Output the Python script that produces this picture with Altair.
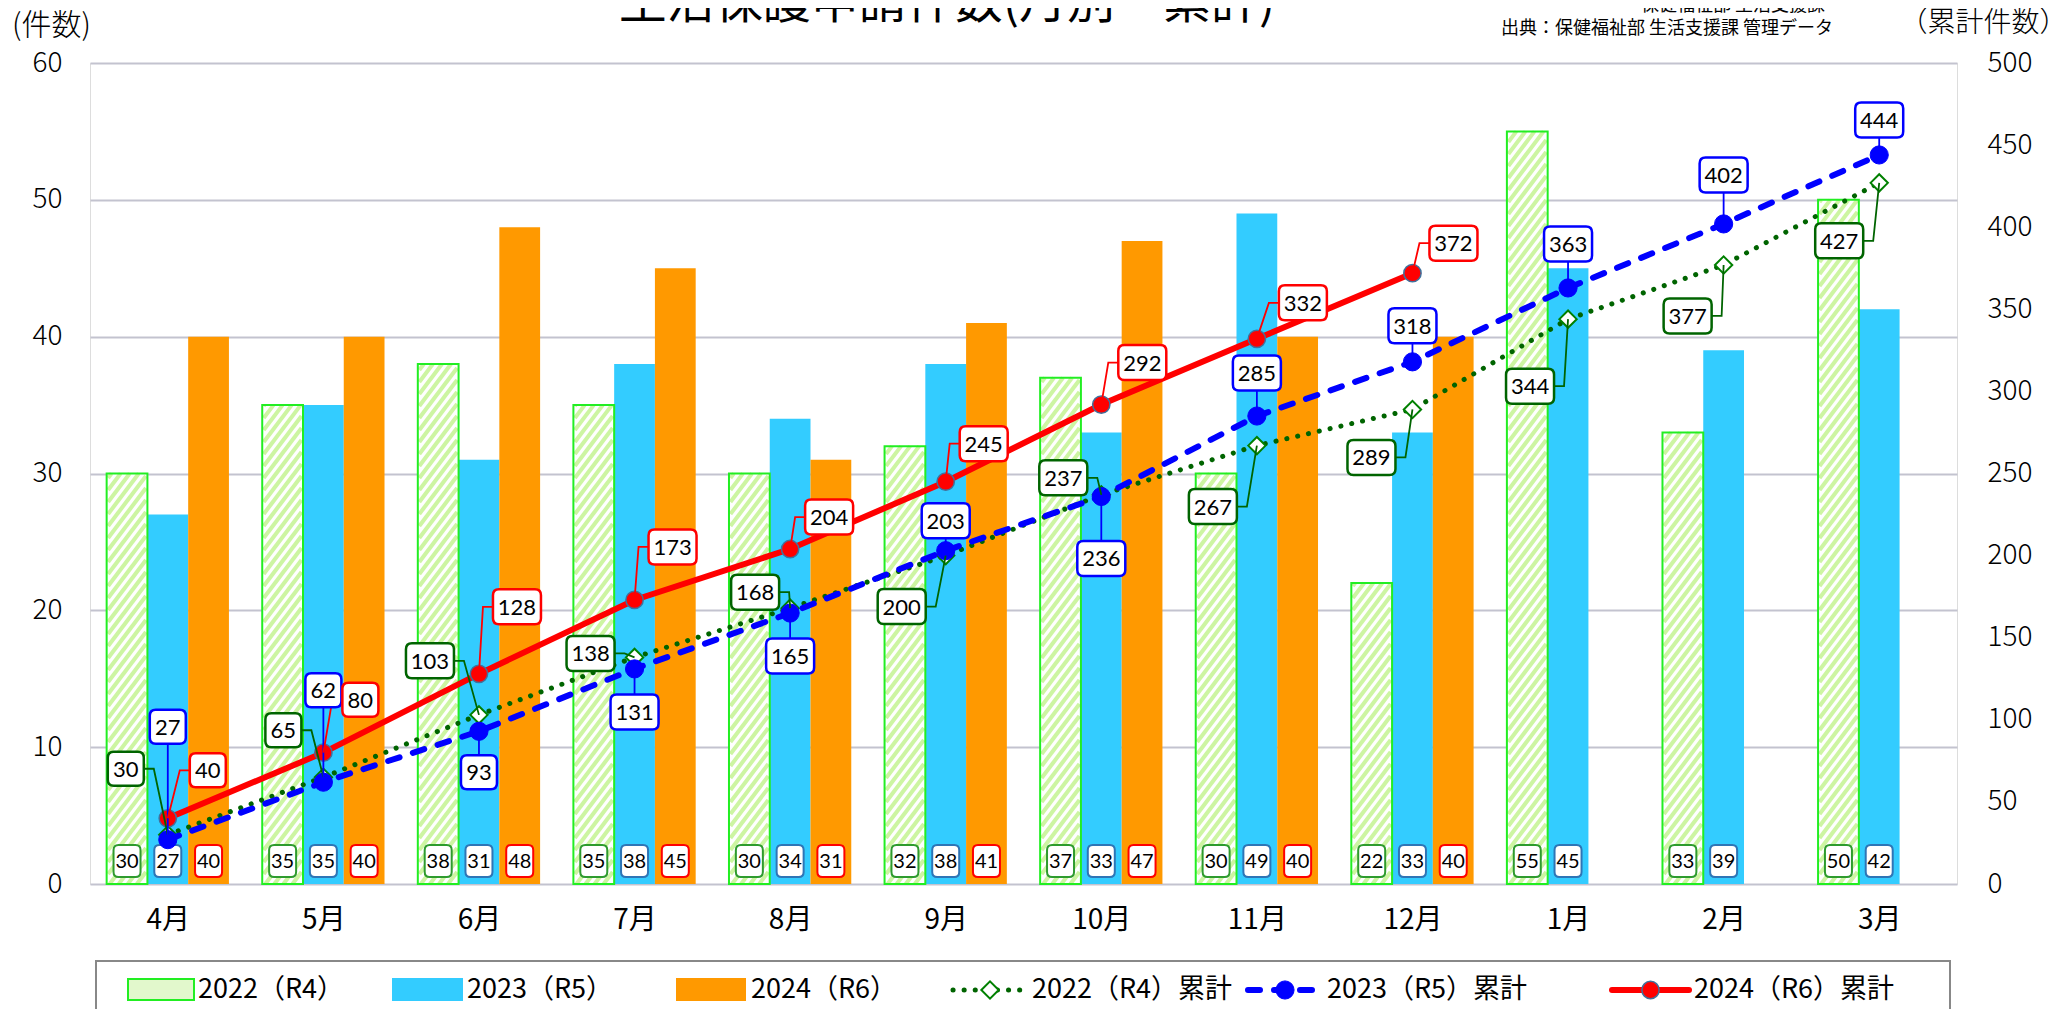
import altair as alt
import pandas as pd

# ---------------- data ----------------
months = ["4月", "5月", "6月", "7月", "8月", "9月", "10月", "11月", "12月", "1月", "2月", "3月"]
r4 = [30, 35, 38, 35, 30, 32, 37, 30, 22, 55, 33, 50]
r5 = [27, 35, 31, 38, 34, 38, 33, 49, 33, 45, 39, 42]
r6 = [40, 40, 48, 45, 31, 41, 47, 40, 40]
r4_cum = [30, 65, 103, 138, 168, 200, 237, 267, 289, 344, 377, 427]
r5_cum = [27, 62, 93, 131, 165, 203, 236, 285, 318, 363, 402, 444]
r6_cum = [40, 80, 128, 173, 204, 245, 292, 332, 372]
series_bar = ["2022（R4）", "2023（R5）", "2024（R6）"]
series_cum = ["2022（R4）累計", "2023（R5）累計", "2024（R6）累計"]
title_text = "生活保護申請件数(月別・累計)"
source_lines = ["保健福祉部 生活支援課", "出典：保健福祉部 生活支援課 管理データ"]
left_title = "(件数)"
right_title = "（累計件数）"

# ---------------- layout / style ----------------
W, H = 1867, 821
X0, Y0 = 90, 63
PXX = W / 12
PXL = H / 60
PXR = H / 500
BW = 0.262
P_STRIPE, RISE = 12.0, 50.0
FONT_CJK = "Noto Sans CJK JP"
FONT_AX = "'Liberation Sans Narrow', 'Noto Sans CJK JP'"
FONT_NUM = "Lato"

bar_fill = ["#FFFFFF", "#33CCFF", "#FF9900"]
bar_label_stroke = ["#2E9B2E", "#2E75B6", "#FF0000"]
cum_color = ["#006400", "#0000FF", "#FF0000"]

# callout offsets in px (dx, dy) and leader type
off_r4 = [(-42, -66), (-40, -47), (-49, -54), (-44, -4), (-35, -16), (-44, 51),
          (-38, -17), (-44, 61), (-41, 48), (-38, 67), (-36, 51), (-40, 58)]
off_r5 = [(0, -113), (0, -92), (0, 41), (0, 43), (0, 43), (0, -30),
          (0, 62), (0, -43), (0, -36), (0, -44), (0, -49), (0, -35)]
off_r6 = [(40, -48), (37, -53), (38, -67), (38, -53), (39, -32), (38, -38),
          (41, -42), (46, -36), (41, -30)]
lead_type = ["L", "V", "R"]
STUB = 10


def rrect(w, h, r):
    a, b = w / 2, h / 2
    return (f"M{-a + r},{-b}H{a - r}Q{a},{-b} {a},{-b + r}V{b - r}Q{a},{b} {a - r},{b}"
            f"H{-a + r}Q{-a},{b} {-a},{b - r}V{-b + r}Q{-a},{-b} {-a + r},{-b}Z")


def xu(px):
    return (px - X0) / PXX - 0.5


def yl(py):
    return (Y0 + H - py) / PXL


xs = alt.Scale(domain=[-0.5, 11.5], nice=False, zero=False)
yls = alt.Scale(domain=[0, 60], nice=False, zero=False)
yrs = alt.Scale(domain=[0, 500], nice=False, zero=False)


def X(f):
    return alt.X(f, scale=xs)


def YL(f):
    return alt.Y(f, scale=yls)


def YR(f):
    return alt.Y(f, scale=yrs)


# ---------------- bars ----------------
rows = []
for k, vals in enumerate([r4, r5, r6]):
    for i, v in enumerate(vals):
        rows.append(dict(s=series_bar[k], k=k, idx=i, v=v,
                         xl=i + (k - 1.5) * BW, xr=i + (k - 0.5) * BW, xc=i + (k - 1) * BW,
                         fc=bar_fill[k], sc=bar_label_stroke[k]))
df_bars = pd.DataFrame(rows)
df_b22 = df_bars[df_bars.k == 0]
df_bsol = df_bars[df_bars.k > 0]

x_axis = alt.Axis(values=list(range(12)), labelExpr=f"{months}[datum.value]", title="",
                  grid=False, ticks=False, domain=False, labelFontSize=28, labelFont=FONT_AX,
                  labelColor="#000000", labelPadding=22, labelOverlap=False)
yl_axis = alt.Axis(values=list(range(0, 61, 10)), title=left_title, titleAngle=0, titleX=-39,
                   titleY=-38, titleAlign="center", titleBaseline="middle", titleFontSize=30,
                   titleFont=FONT_CJK, titleFontWeight=300, titleColor="#000000",
                   labelFontSize=28, labelFont=FONT_AX, labelFontWeight=300, labelColor="#000000",
                   labelPadding=28, ticks=False, domain=False, grid=True, gridColor="#C3C3CF",
                   gridWidth=2)
yr_axis = alt.Axis(values=list(range(0, 501, 50)), orient="right", title=right_title, titleAngle=0,
                   titleX=26, titleY=-40, titleAlign="center", titleBaseline="middle",
                   titleFontSize=28, titleFont=FONT_CJK, titleFontWeight=300,
                   titleColor="#000000", labelFontSize=28, labelFont=FONT_AX, labelFontWeight=300,
                   labelColor="#000000", labelPadding=30, ticks=False, domain=False, grid=False)

bars_solid = alt.Chart(df_bsol).mark_rect().encode(
    x=alt.X("xl:Q", scale=xs, axis=x_axis), x2="xr:Q",
    y=alt.Y("v:Q", scale=yls, axis=yl_axis), y2=alt.datum(0),
    fill=alt.Fill("fc:N", scale=None),
)
bars22_bg = alt.Chart(df_b22).mark_rect(fill="#FFFFFF").encode(
    x=X("xl:Q"), x2="xr:Q", y=YL("v:Q"), y2=alt.datum(0),
)
inset = 1.5 / PXX
stripes = (
    alt.Chart(df_b22)
    .transform_calculate(n=f"sequence(0, ceil((datum.v*{PXL} + {RISE})/{P_STRIPE}) + 1)")
    .transform_flatten(["n"])
    .transform_calculate(y0=f"datum.n*{P_STRIPE} - {RISE}")
    .transform_calculate(top=f"datum.v*{PXL}")
    .transform_calculate(ta=f"max(0, -datum.y0/{RISE})")
    .transform_calculate(tb=f"min(1, (datum.top - datum.y0)/{RISE})")
    .transform_filter("datum.tb > datum.ta")
    .transform_calculate(sx=f"datum.xl + {inset} + datum.ta*{BW - 2 * inset}")
    .transform_calculate(ex=f"datum.xl + {inset} + datum.tb*{BW - 2 * inset}")
    .transform_calculate(sy=f"(datum.y0 + datum.ta*{RISE})/{PXL}")
    .transform_calculate(ey=f"(datum.y0 + datum.tb*{RISE})/{PXL}")
    .mark_rule(color="#CDF5A2", strokeWidth=4)
    .encode(x=X("sx:Q"), x2="ex:Q", y=YL("sy:Q"), y2="ey:Q")
)
bars22_border = alt.Chart(df_b22).mark_rect(filled=False, stroke="#22EE22", strokeWidth=2).encode(
    x=X("xl:Q"), x2="xr:Q", y=YL("v:Q"), y2=alt.datum(0),
)

BAR_LABEL_Y = 23 / PXL
bar_label_box = alt.Chart(df_bars).mark_point(
    shape=rrect(27, 32, 5), size=4, filled=True, fill="#FFFFFF", strokeWidth=2, opacity=1
).encode(
    x=X("xc:Q"), y=alt.datum(BAR_LABEL_Y),
    stroke=alt.Stroke("sc:N", scale=None),
)
bar_label_text = alt.Chart(df_bars).mark_text(
    font=FONT_NUM, fontSize=20, color="#000000", baseline="middle", align="center", dy=1
).encode(x=X("xc:Q"), y=alt.datum(BAR_LABEL_Y), text="v:Q")

# ---------------- annotations (title, source) ----------------
df_ann = pd.DataFrame([dict(t=title_text)])
title_mark = alt.Chart(df_ann).mark_text(
    font=FONT_CJK, fontSize=48, color="#000000", align="center", baseline="middle"
).encode(x=alt.value(857), y=alt.value(-59), text="t:N")
df_src = pd.DataFrame([dict(t=source_lines[0]), dict(t=source_lines[1])])
src1 = alt.Chart(df_src.iloc[[0]]).mark_text(
    font=FONT_CJK, fontSize=18, color="#000000", align="right", baseline="middle"
).encode(x=alt.value(1735), y=alt.value(-57), text="t:N")
src2 = alt.Chart(df_src.iloc[[1]]).mark_text(
    font=FONT_CJK, fontSize=18, color="#000000", align="right", baseline="middle"
).encode(x=alt.value(1743), y=alt.value(-34), text="t:N")

# ---------------- legend (drawn below the plot) ----------------
LY = 990
df_lbox = pd.DataFrame([dict(x1=xu(96), x2=xu(1950), y1=yl(961), y2=yl(1040))])
leg_box = alt.Chart(df_lbox).mark_rect(fill="#FFFFFF", stroke="#888888", strokeWidth=2).encode(
    x=X("x1:Q"), x2="x2:Q", y=YL("y1:Q"), y2="y2:Q")
df_lrect = pd.DataFrame([
    dict(x1=xu(128), x2=xu(194), f="#E2F8CC", st="#22EE22"),
    dict(x1=xu(393), x2=xu(462), f=bar_fill[1], st=bar_fill[1]),
    dict(x1=xu(677), x2=xu(745), f=bar_fill[2], st=bar_fill[2]),
])
df_lrect["y1"] = yl(979)
df_lrect["y2"] = yl(1000)
leg_rects = alt.Chart(df_lrect).mark_rect(strokeWidth=2).encode(
    x=X("x1:Q"), x2="x2:Q", y=YL("y1:Q"), y2="y2:Q",
    fill=alt.Fill("f:N", scale=None), stroke=alt.Stroke("st:N", scale=None))
leg_sample = [(953, 1027), (1248, 1322), (1612, 1689)]
leg_text_x = [198, 467, 751, 1032, 1327, 1694]
leg_labels = series_bar + series_cum
df_ltext = pd.DataFrame(dict(t=leg_labels, x=[xu(v) for v in leg_text_x], y=yl(LY)))
leg_text = alt.Chart(df_ltext).mark_text(
    font=FONT_AX, fontSize=27, color="#000000", align="left", baseline="middle"
).encode(x=X("x:Q"), y=YL("y:Q"), text="t:N")

line_styles = [
    dict(strokeWidth=5, strokeDash=[0.1, 11], strokeCap="round"),
    dict(strokeWidth=6, strokeDash=[12, 14], strokeCap="round"),
    dict(strokeWidth=6, strokeCap="round"),
]
point_styles = [
    dict(shape="diamond", size=300, filled=True, fill="#FFFFFF", stroke="#008000", strokeWidth=2),
    dict(shape="circle", size=330, filled=True, fill="#0000FF", stroke="#0000FF", strokeWidth=1),
    dict(shape="circle", size=300, filled=True, fill="#FF0000", stroke="#41719C", strokeWidth=1.5),
]

leg_layers = [leg_box, leg_rects]
for j in range(3):
    a, b = leg_sample[j]
    dfl = pd.DataFrame(dict(x=[xu(a), xu(b)], y=[yl(LY), yl(LY)]))
    leg_layers.append(alt.Chart(dfl).mark_line(color=cum_color[j], **line_styles[j]).encode(
        x=X("x:Q"), y=YL("y:Q")))
    dfp = pd.DataFrame(dict(x=[xu((a + b) / 2)], y=[yl(LY)]))
    leg_layers.append(alt.Chart(dfp).mark_point(opacity=1, **point_styles[j]).encode(
        x=X("x:Q"), y=YL("y:Q")))
leg_layers += [leg_text]

left_group = alt.layer(bars_solid, bars22_bg, stripes, bars22_border, bar_label_box,
                       bar_label_text, title_mark, src1, src2, *leg_layers)

# ---------------- cumulative lines + callouts ----------------
cums = [r4_cum, r5_cum, r6_cum]
offs = [off_r4, off_r5, off_r6]
right_layers = []
call_rows, lead_rows = [], []
for j in range(3):
    dfc = pd.DataFrame(dict(idx=list(range(len(cums[j]))), v=cums[j]))
    yenc = alt.Y("v:Q", scale=yrs, axis=yr_axis) if j == 0 else YR("v:Q")
    right_layers.append(alt.Chart(dfc).mark_line(color=cum_color[j], **line_styles[j]).encode(
        x=X("idx:Q"), y=yenc))
    right_layers.append(alt.Chart(dfc).mark_point(opacity=1, **point_styles[j]).encode(
        x=X("idx:Q"), y=YR("v:Q")))
    for i, v in enumerate(cums[j]):
        dx, dy = offs[j][i]
        lx = i + dx / PXX
        ly = v - dy / PXR
        bw = 36 if v < 100 else 48
        hw = bw / 2
        key = f"{j}-{i}"
        shp = rrect(36, 34, 6) if v < 100 else rrect(48, 35, 6)
        call_rows.append(dict(c=cum_color[j], x=lx, y=ly, v=v, shp=shp))
        lead_rows.append(dict(key=key, o=0, c=cum_color[j], x=i, y=v))
        if lead_type[j] == "V":
            lead_rows.append(dict(key=key, o=1, c=cum_color[j], x=lx, y=ly))
        else:
            sgn = 1 if lead_type[j] == "L" else -1
            lead_rows.append(dict(key=key, o=1, c=cum_color[j], x=lx + sgn * (hw + STUB) / PXX, y=ly))
            lead_rows.append(dict(key=key, o=2, c=cum_color[j], x=lx, y=ly))

df_call = pd.DataFrame(call_rows)
df_lead = pd.DataFrame(lead_rows)
leaders = alt.Chart(df_lead).mark_line(strokeWidth=1.8).encode(
    x=X("x:Q"), y=YR("y:Q"), detail="key:N", order="o:Q",
    stroke=alt.Stroke("c:N", scale=None))
call_box = alt.Chart(df_call).mark_point(
    size=4, filled=True, fill="#FFFFFF", strokeWidth=2.5, opacity=1).encode(
    x=X("x:Q"), y=YR("y:Q"),
    shape=alt.Shape("shp:N", scale=None),
    stroke=alt.Stroke("c:N", scale=None))
call_text = alt.Chart(df_call).mark_text(
    font=FONT_NUM, fontSize=22, color="#000000", align="center", baseline="middle", dy=1).encode(
    x=X("x:Q"), y=YR("y:Q"), text="v:Q")
right_layers += [leaders, call_box, call_text]
right_group = alt.layer(*right_layers)

chart = (
    alt.layer(left_group, right_group)
    .resolve_scale(y="independent")
    .properties(width=W, height=H, autosize=alt.AutoSizeParams(type="none"),
                padding={"left": 82, "top": 55, "right": 104, "bottom": 125})
    .configure_view(stroke="#888888", strokeWidth=2)
    .configure_axis(labelFont=FONT_AX, labelFontSize=28, labelColor="#000000", ticks=False,
                    domain=False)
    .configure(background="#FFFFFF")
)

chart.save("out.html", embed_options={"renderer": "svg", "actions": False})
